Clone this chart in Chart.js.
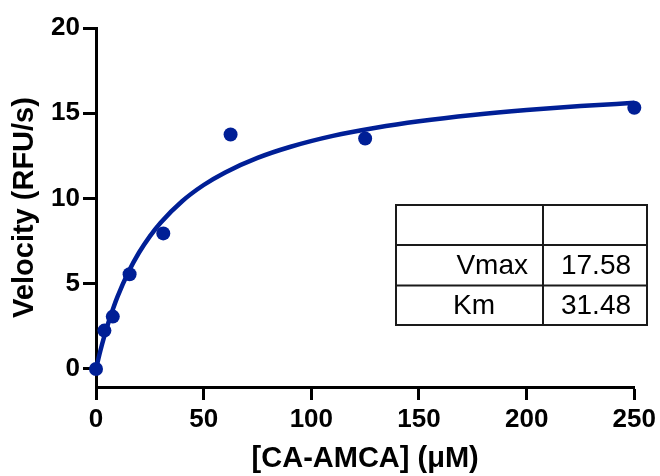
<!DOCTYPE html>
<html>
<head>
<meta charset="utf-8">
<script src="https://cdn.jsdelivr.net/npm/chart.js@4/dist/chart.umd.min.js"></script>
<style>
  html, body { margin: 0; padding: 0; background: #ffffff; }
  #wrap { width: 660px; height: 476px; }
</style>
</head>
<body>
<div id="wrap"><canvas id="c" width="660" height="476"></canvas></div>
<script>
// ---- data ----
const substrateConc = [0, 3.9, 7.8, 15.6, 31.25, 62.5, 125, 250];      // [CA-AMCA] (µM)
const velocity      = [0, 2.25, 3.07, 5.55, 7.95, 13.75, 13.52, 15.32]; // RFU/s
// fitted curve
const curveX = [0, 2, 4, 6, 8, 10, 15, 20, 25, 30, 40, 50, 60, 75, 90, 110, 130, 150, 175, 200, 225, 250];
const curveY = [0, 1.05, 1.98, 2.81, 3.56, 4.24, 5.67, 6.83, 7.78, 8.58, 9.84, 10.79, 11.53, 12.38, 13.02, 13.67, 14.15, 14.53, 14.9, 15.19, 15.42, 15.61];
const xTicks = [0, 50, 100, 150, 200, 250];
const yTicks = [0, 5, 10, 15, 20];
const tableParams = ['', 'Vmax', 'Km'];
const tableValues = ['', '17.58', '31.48'];

const BLUE = '#001f96';
const FONT = "'Liberation Sans', Arial, Helvetica, sans-serif";

const pointData = substrateConc.map((x, i) => ({ x: x, y: velocity[i] }));
const curveData = curveX.map((x, i) => ({ x: x, y: curveY[i] }));

const tablePlugin = {
  id: 'resultsTable',
  afterDraw(chart) {
    const ctx = chart.ctx;
    const left = 396, right = 647, mid = 543;
    const rows = [205, 245, 285.5, 325];
    ctx.save();
    ctx.strokeStyle = '#1a1a1a';
    ctx.lineWidth = 2;
    ctx.strokeRect(left, rows[0], right - left, rows[3] - rows[0]);
    ctx.beginPath();
    ctx.moveTo(mid, rows[0]); ctx.lineTo(mid, rows[3]);
    ctx.moveTo(left, rows[1]); ctx.lineTo(right, rows[1]);
    ctx.moveTo(left, rows[2]); ctx.lineTo(right, rows[2]);
    ctx.stroke();
    ctx.fillStyle = '#000';
    ctx.font = '28px ' + FONT;
    ctx.textBaseline = 'middle';
    for (let r = 0; r < tableParams.length; r++) {
      const cy = (rows[r] + rows[r + 1]) / 2 + 1;
      if (tableParams[r]) {
        if (tableParams[r] === 'Km') {
          ctx.textAlign = 'center';
          ctx.fillText(tableParams[r], 474, cy);
        } else {
          ctx.textAlign = 'right';
          ctx.fillText(tableParams[r], 528, cy);
        }
      }
      if (tableValues[r]) {
        ctx.textAlign = 'center';
        ctx.fillText(tableValues[r], (mid + right) / 2 + 1, cy);
      }
    }
    ctx.restore();
  }
};

new Chart(document.getElementById('c'), {
  type: 'scatter',
  data: {
    datasets: [
      {
        label: 'Data',
        data: pointData,
        backgroundColor: BLUE,
        borderColor: BLUE,
        pointRadius: 7,
        pointHoverRadius: 7,
        borderWidth: 0,
        showLine: false,
        clip: false
      },
      {
        label: 'Fit',
        data: curveData,
        borderColor: BLUE,
        backgroundColor: BLUE,
        borderWidth: 4.5,
        pointRadius: 0,
        showLine: true,
        cubicInterpolationMode: 'monotone',
        clip: false
      }
    ]
  },
  options: {
    responsive: false,
    animation: false,
    events: [],
    layout: { padding: { top: 28, right: 24, left: 0, bottom: 0 } },
    plugins: { legend: { display: false }, tooltip: { enabled: false } },
    scales: {
      x: {
        type: 'linear',
        min: 0,
        max: 250,
        afterBuildTicks: (s) => { s.ticks = xTicks.map(v => ({ value: v })); },
        afterFit: (s) => { s.height = 89; },
        grid: { display: true, drawOnChartArea: false, drawTicks: true, tickLength: 13, tickWidth: 3, tickColor: '#000', color: '#000' },
        border: { display: true, width: 3, color: '#000' },
        ticks: { color: '#000', padding: 4, font: { family: FONT, size: 26, weight: 'bold' }, maxRotation: 0 },
        title: { display: true, text: '[CA-AMCA] (μM)', color: '#000', padding: { top: 0, bottom: 0 }, font: { family: FONT, size: 29, weight: 'bold' } }
      },
      y: {
        type: 'linear',
        min: -1.06,
        max: 20,
        afterBuildTicks: (s) => { s.ticks = yTicks.map(v => ({ value: v })); },
        afterFit: (s) => { s.width = 96; },
        grid: { display: true, drawOnChartArea: false, drawTicks: true, tickLength: 13, tickWidth: 3, tickColor: '#000', color: '#000' },
        border: { display: true, width: 3, color: '#000' },
        ticks: { color: '#000', padding: 3, font: { family: FONT, size: 26, weight: 'bold' } },
        title: { display: true, text: 'Velocity (RFU/s)', color: '#000', padding: { top: 8, bottom: 0 }, font: { family: FONT, size: 29, weight: 'bold' } }
      }
    }
  },
  plugins: [tablePlugin]
});
</script>
</body>
</html>
